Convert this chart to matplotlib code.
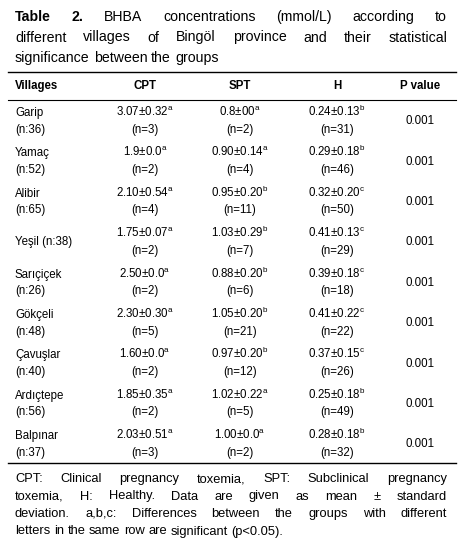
import matplotlib
matplotlib.use("Agg")
import matplotlib.pyplot as plt
from matplotlib import font_manager as fm

fm.fontManager.ttflist = [f for f in fm.fontManager.ttflist if 'Narrow' not in f.fname and 'Narrow' not in f.name]
fm.fontManager._findfont_cached.cache_clear() if hasattr(fm.fontManager, '_findfont_cached') else None

plt.rcParams['font.family'] = ['Liberation Sans', 'DejaVu Sans']
plt.rcParams['mathtext.fontset'] = 'custom'
plt.rcParams['mathtext.rm'] = 'Liberation Sans'
plt.rcParams['mathtext.it'] = 'Liberation Sans'

villages = ["Garip", "Yamaç", "Alibir", "Yeşil", "Sarıçiçek", "Gökçeli", "Çavuşlar", "Ardıçtepe", "Balpınar"]
village_n = [36, 52, 65, 38, 26, 48, 40, 56, 37]
cpt = ["3.07±0.32", "1.9±0.0", "2.10±0.54", "1.75±0.07", "2.50±0.0", "2.30±0.30", "1.60±0.0", "1.85±0.35", "2.03±0.51"]
cpt_sup = ["a"] * 9
cpt_n = [3, 2, 4, 2, 2, 5, 2, 2, 3]
spt = ["0.8±00", "0.90±0.14", "0.95±0.20", "1.03±0.29", "0.88±0.20", "1.05±0.20", "0.97±0.20", "1.02±0.22", "1.00±0.0"]
spt_sup = ["a", "a", "b", "b", "b", "b", "b", "a", "a"]
spt_n = [2, 4, 11, 7, 6, 21, 12, 5, 2]
h = ["0.24±0.13", "0.29±0.18", "0.32±0.20", "0.41±0.13", "0.39±0.18", "0.41±0.22", "0.37±0.15", "0.25±0.18", "0.28±0.18"]
h_sup = ["b", "b", "c", "c", "c", "c", "c", "b", "b"]
h_n = [31, 46, 50, 29, 18, 22, 26, 49, 32]
p_values = ["0.001"] * 9
headers = ["Villages", "CPT", "SPT", "H", "P value"]

W, H = 464, 547
fig = plt.figure(figsize=(W / 100, H / 100), dpi=100)
ax = fig.add_axes([0, 0, 1, 1])
ax.set_xlim(0, W)
ax.set_ylim(H, 0)
ax.axis('off')
fig.canvas.draw()
r = fig.canvas.get_renderer()

L, R = 15, 447

def justify(words_lines, y0, dy, fs, bold_first=None):
    for li, words in enumerate(words_lines):
        y = y0 + li * dy
        objs = []
        for wi, w in enumerate(words):
            wt = 'bold' if (bold_first and li == 0 and wi < bold_first) else 'normal'
            objs.append(ax.text(0, y, w, fontsize=fs, fontweight=wt, va='baseline', ha='left'))
        widths = [o.get_window_extent(r).width for o in objs]
        last = li == len(words_lines) - 1
        if last or len(words) == 1:
            gap = fs * 0.28 * 100 / 72
        else:
            gap = (R - L - sum(widths)) / (len(words) - 1)
        x = L
        for o, w in zip(objs, widths):
            o.set_x(x)
            x += w + gap

title = [["Table", "2.", "BHBA", "concentrations", "(mmol/L)", "according", "to"],
         ["different", "villages", "of", "Bingöl", "province", "and", "their", "statistical"],
         ["significance", "between", "the", "groups"]]
justify(title, 21, 20.5, 10.2, bold_first=2)

ax.plot([8, 456], [72, 72], color='black', lw=1)
ax.plot([8, 456], [100, 100], color='black', lw=0.8)
ax.plot([8, 456], [463, 463], color='black', lw=1)

colx = [15, 145, 240, 337, 420]
for i, hd in enumerate(headers):
    ax.text(colx[i], 89, hd, fontsize=8.3, fontweight='bold', ha='left' if i == 0 else 'center', va='baseline')

fs = 8.3
for i in range(len(villages)):
    y1 = 116 + i * 40.4
    y2 = y1 + 16.5
    if villages[i] == "Yeşil":
        ax.text(15, (y1 + y2) / 2, f"{villages[i]} (n:{village_n[i]})", fontsize=fs, va='baseline')
    else:
        ax.text(15, y1, villages[i], fontsize=fs, va='baseline')
        ax.text(15, y2, f"(n:{village_n[i]})", fontsize=fs, va='baseline')
    for x, vals, sups, ns in [(145, cpt, cpt_sup, cpt_n), (240, spt, spt_sup, spt_n), (337, h, h_sup, h_n)]:
        ax.text(x, y1, vals[i] + r"$^{\mathrm{" + sups[i] + "}}$", fontsize=fs, ha='center', va='baseline')
        ax.text(x, y2, f"(n={ns[i]})", fontsize=fs, ha='center', va='baseline')
    ax.text(420, (y1 + y2) / 2, p_values[i], fontsize=fs, ha='center', va='baseline')

foot = [["CPT:", "Clinical", "pregnancy", "toxemia,", "SPT:", "Subclinical", "pregnancy"],
        ["toxemia,", "H:", "Healthy.", "Data", "are", "given", "as", "mean", "±", "standard"],
        ["deviation.", "a,b,c:", "Differences", "between", "the", "groups", "with", "different"],
        ["letters", "in", "the", "same", "row", "are", "significant", "(p<0.05)."]]
justify(foot, 482, 17.5, 9.3)

fig.savefig("out.png", dpi=100)
